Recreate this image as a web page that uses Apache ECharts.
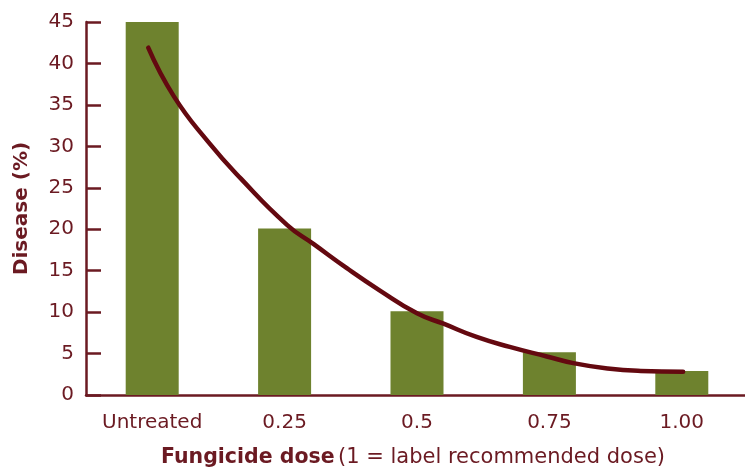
<!DOCTYPE html>
<html>
<head>
<meta charset="utf-8">
<script src="https://cdn.jsdelivr.net/npm/echarts@6/dist/echarts.min.js"></script>
<style>
html, body { margin: 0; padding: 0; background: #fff; }
#main { width: 745px; height: 470px; }
</style>
</head>
<body>
<div id="main"></div>
<script>
var doses = ['Untreated', '0.25', '0.5', '0.75', '1.00'];
var disease = [45, 20.1, 10.1, 5.15, 2.9];
// fitted curve: [position along doses, disease %]
var curveX = [-0.03, 0.165, 0.42, 0.67, 1.02, 1.22, 1.47, 1.72, 2.0, 2.2, 2.45, 2.7, 2.98, 3.18, 3.44, 3.69, 4.01];
var curveY = [41.9, 36.0, 30.6, 26.1, 20.5, 18.2, 15.3, 12.6, 9.85, 8.6, 7.0, 5.8, 4.65, 3.85, 3.2, 2.9, 2.8];

var maroon = '#6b1a22';
var curveColor = '#640910';
var barColor = '#6e822e';
var font = 'DejaVu Sans';

var chart = echarts.init(document.getElementById('main'));

var curve = [];
for (var i = 0; i < curveX.length; i++) {
    curve.push([curveX[i], curveY[i]]);
}

var option = {
    backgroundColor: '#fff',
    animation: false,
    grid: { left: 86, right: -3, top: 22, bottom: 75, containLabel: false, outerBoundsMode: 'none' },
    xAxis: [
        {
            type: 'category',
            data: doses,
            axisLine: { lineStyle: { color: maroon, width: 2.5 } },
            axisTick: { alignWithLabel: true, length: 9, lineStyle: { color: maroon, width: 2.5 } },
            axisLabel: { color: maroon, fontFamily: font, fontSize: 20, margin: 18 },
            name: '{b|Fungicide dose} {n|(1 = label recommended dose)}',
            nameLocation: 'middle',
            nameGap: 52,
            nameTextStyle: {
                padding: [0, 8, 0, 0],
                rich: {
                    b: { color: maroon, fontFamily: font, fontSize: 20.5, fontWeight: 'bold' },
                    n: { color: maroon, fontFamily: font, fontSize: 21 }
                }
            }
        },
        {
            type: 'value',
            min: -0.5,
            max: 4.5,
            show: false
        }
    ],
    yAxis: {
        type: 'value',
        min: 0,
        max: 45,
        interval: 5,
        splitLine: { show: false },
        axisLine: { show: true, onZero: false, lineStyle: { color: maroon, width: 2.5 } },
        axisTick: { show: true, inside: true, length: 15, lineStyle: { color: maroon, width: 2.5 } },
        axisLabel: { color: maroon, fontFamily: font, fontSize: 20, margin: 12 },
        name: 'Disease (%)',
        nameLocation: 'middle',
        nameGap: 54,
        nameTextStyle: { color: maroon, fontFamily: font, fontSize: 20, fontWeight: 'bold' }
    },
    series: [
        {
            type: 'bar',
            data: disease,
            barWidth: 53,
            itemStyle: { color: barColor }
        },
        {
            type: 'line',
            xAxisIndex: 1,
            data: curve,
            smooth: 0.5,
            symbol: 'none',
            lineStyle: { color: curveColor, width: 4.5, cap: 'round' }
        }
    ]
};

chart.setOption(option);
window.onresize = function () {
    chart.resize();
};
</script>
</body>
</html>
